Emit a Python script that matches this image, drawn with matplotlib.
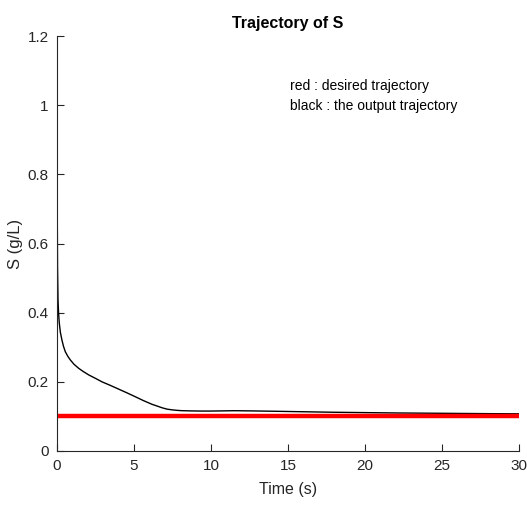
import matplotlib
matplotlib.use("Agg")
import matplotlib.pyplot as plt

plt.rcParams['font.family'] = ['Liberation Sans', 'DejaVu Sans']

# output trajectory
t_out = [0, 0.005, 0.01, 0.02, 0.035, 0.065, 0.1, 0.15, 0.22, 0.32, 0.42, 0.54, 0.7,
         0.87, 1.1, 1.41, 1.7, 2.06, 2.5, 2.92, 3.45, 4.0, 4.55, 5.08, 5.6, 6.17,
         6.5, 6.82, 7.15, 7.47, 7.8, 8.1, 8.6, 9.3, 10, 10.8, 11.5, 12.5, 14, 16,
         18, 20, 22, 25, 28, 30]
s_out = [1.25, 1.0, 0.82, 0.65, 0.53, 0.437, 0.4, 0.369, 0.343, 0.321, 0.303, 0.287,
         0.274, 0.263, 0.251, 0.239, 0.23, 0.22, 0.21, 0.2, 0.19, 0.179, 0.168, 0.157,
         0.146, 0.135, 0.13, 0.125, 0.121, 0.119, 0.1175, 0.1166, 0.116, 0.1155,
         0.1155, 0.116, 0.1165, 0.116, 0.115, 0.1135, 0.112, 0.111, 0.110, 0.109,
         0.108, 0.1075]

# desired trajectory
t_ref = [0, 30]
s_ref = [0.1, 0.1]

fig = plt.figure(figsize=(5.27, 5.05), dpi=100)
ax = fig.add_axes([57 / 527, 1 - 451 / 505, 462 / 527, 415 / 505])

ax.plot(t_out, s_out, color='black', lw=1.0)
ax.plot(t_ref, s_ref, color='red', lw=3.2)

ax.set_xlim(0, 30)
ax.set_ylim(0, 1.2)
ax.set_xticks([0, 5, 10, 15, 20, 25, 30])
ax.set_yticks([0, 0.2, 0.4, 0.6, 0.8, 1, 1.2])
ax.set_yticklabels(['0', '0.2', '0.4', '0.6', '0.8', '1', '1.2'])

for side in ['top', 'right']:
    ax.spines[side].set_visible(False)
for side in ['left', 'bottom']:
    ax.spines[side].set_color('#262626')
    ax.spines[side].set_linewidth(0.8)
ax.tick_params(direction='in', length=5, width=0.8, colors='#262626',
               labelsize=11, pad=6)

ax.set_xlabel('Time (s)', fontsize=11.5, color='#262626', labelpad=6)
ax.set_ylabel('S (g/L)', fontsize=12, color='#262626', labelpad=3)
ax.set_title('Trajectory of S', fontsize=11.5, fontweight='bold', pad=6)

ax.text(15.1, 1.055, 'red : desired trajectory', fontsize=10, va='center')
ax.text(15.1, 0.998, 'black : the output trajectory', fontsize=10, va='center')

fig.savefig('out.png', dpi=100)
